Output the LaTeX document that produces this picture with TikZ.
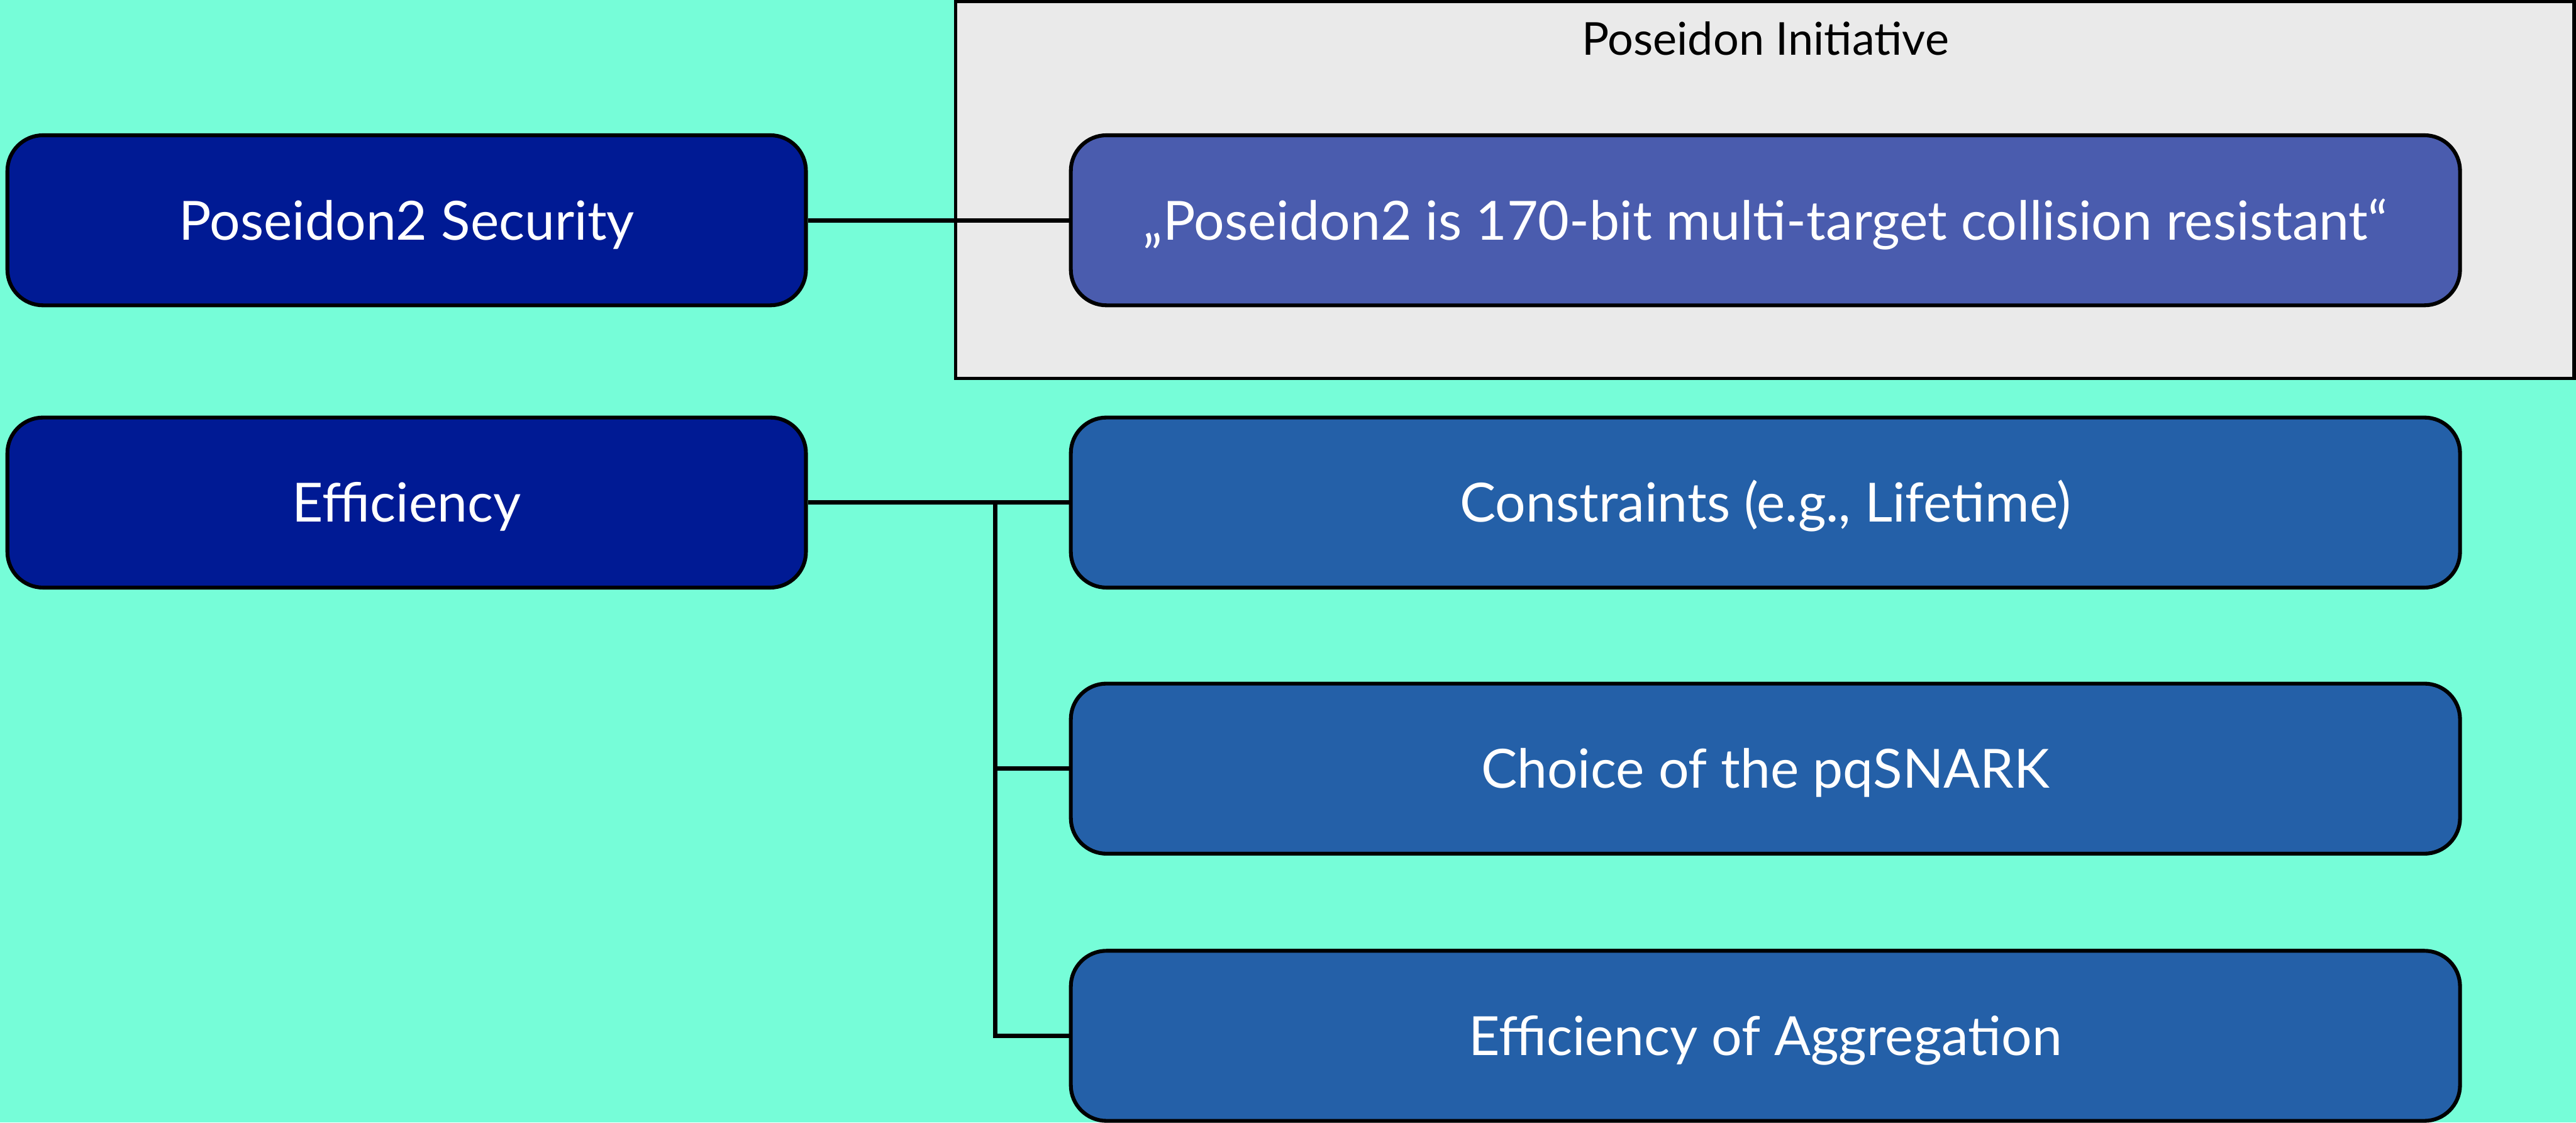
\documentclass[tikz,border=0pt]{standalone}
\usepackage{fontspec}
\setmainfont{Lato}
\usepackage{tikz}
\definecolor{mint}{RGB}{118,253,216}
\definecolor{navy}{RGB}{0,26,148}
\definecolor{lavblue}{RGB}{74,92,174}
\definecolor{steel}{RGB}{36,96,168}
\definecolor{panelgray}{RGB}{234,234,234}
\tikzstyle{link} = [line width=0.8mm]
\tikzstyle{topic} = [draw, line width=0.7mm, rounded corners=6.5mm, fill=navy, text=white, minimum width=14.56cm, minimum height=3.1cm, text height=20.2pt, text depth=0pt, font=\fontsize{28}{34}\selectfont]
\tikzstyle{item} = [topic, fill=steel, minimum width=25.33cm]
\tikzstyle{panel} = [draw, line width=0.6mm, fill=panelgray, minimum width=29.51cm, minimum height=6.87cm]

\begin{document}
\begin{tikzpicture}
        \fill[mint] (0,0) rectangle (46.97,-20.46);
        \useasboundingbox (0,0) rectangle (46.97,-20.46);

        \node[panel] at (32.18,-3.465) (init) {};
        \node[text height=16.9pt, text depth=0pt, font=\fontsize{23.5}{28}\selectfont] at (32.19,-0.71) (title) {Poseidon Initiative};

        \node[topic] at (7.415,-4.015) (sec) {Poseidon2 Security};
        \node[topic] at (7.415,-9.16) (eff) {Efficiency};

        \node[item, fill=lavblue] at (32.19,-4.015) (claim) {„Poseidon2 is 170-bit multi-target collision resistant“};
        \node[item] at (32.19,-9.16) (cons) {Constraints (e.g., Lifetime)};
        \node[item] at (32.19,-14.01) (snark) {Choice of the pqSNARK};
        \node[item] at (32.19,-18.88) (aggr) {Efficiency of Aggregation};

        \coordinate (fork) at (18.15,-9.16);

        \draw[link] (sec) -- (claim);
        \draw[link] (eff) -- (cons);
        \draw[link] (fork) |- (snark.west);
        \draw[link] (fork) |- (aggr.west);

      \end{tikzpicture}
\end{document}
